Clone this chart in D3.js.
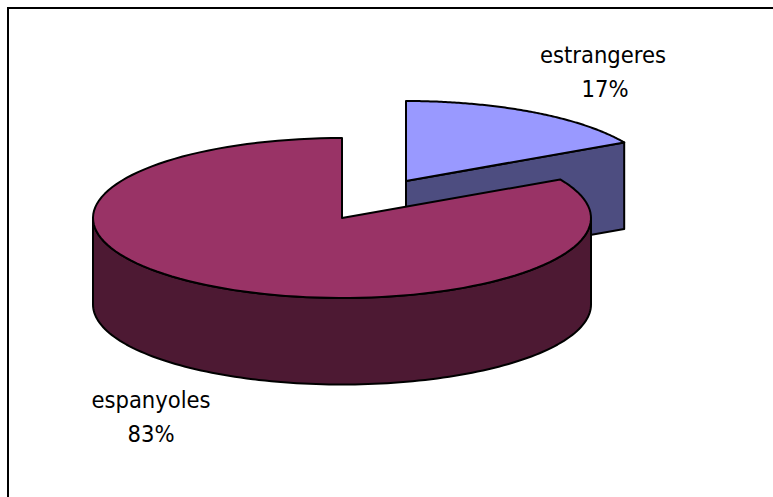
<!DOCTYPE html>
<html>
<head>
<meta charset="utf-8">
<script src="https://cdn.jsdelivr.net/npm/d3@7"></script>
<style>
  html, body { margin: 0; padding: 0; background: #fff; overflow: hidden; }
</style>
</head>
<body>
<div id="chart"></div>
<script>
const categories = ['estrangeres', 'espanyoles']
const values = [17, 83]
const percentLabels = ['17%', '83%']

const width = 773
const height = 497
const rx = 249
const ry = 80
const depth = 86.5
const center = { x: 342, y: 218 }
const explode = { x: 64, y: -37 }

const svg = d3.select('#chart').append('svg').attr('width', width).attr('height', height)

// frame runs off the right and bottom of the picture
svg.append('rect')
  .attr('x', 8).attr('y', 8)
  .attr('width', 780).attr('height', 510)
  .attr('fill', '#fff').attr('stroke', '#000').attr('stroke-width', 2)

const slices = d3.pie().sort(null)(values)

const line = d3.line()

// flattened pie: angle 0 is 12 o'clock, going clockwise
function rim(c, a, dy = 0) {
  return [c.x + rx * Math.sin(a), c.y - ry * Math.cos(a) + dy]
}
function arcPoints(c, a0, a1, dy = 0) {
  return d3.range(0, 121).map((i) => rim(c, a0 + ((a1 - a0) * i) / 120, dy))
}
function addPath(points, fill) {
  svg.append('path')
    .attr('d', line(points) + 'Z')
    .attr('fill', fill)
    .attr('stroke', '#000')
    .attr('stroke-width', 2)
    .attr('stroke-linejoin', 'round')
}

// small slice, pulled out up and right
const small = slices[0]
const smallCenter = { x: center.x + explode.x, y: center.y + explode.y }
const smallEnd = rim(smallCenter, small.endAngle)
addPath([
  [smallCenter.x, smallCenter.y],
  smallEnd,
  [smallEnd[0], smallEnd[1] + depth],
  [smallCenter.x, smallCenter.y + depth],
], '#4d4d80')
addPath([[smallCenter.x, smallCenter.y], ...arcPoints(smallCenter, small.startAngle, small.endAngle)], '#9999ff')

// big slice: front wall first, then the top
const big = slices[1]
addPath([
  ...arcPoints(center, Math.PI / 2, (3 * Math.PI) / 2),
  ...arcPoints(center, (3 * Math.PI) / 2, Math.PI / 2, depth),
], '#4d1933')
addPath([[center.x, center.y], ...arcPoints(center, big.startAngle, big.endAngle)], '#993366')

const labelPos = [
  { x: 603, y: 63 },
  { x: 151, y: 408 },
]
categories.forEach((name, i) => {
  const t = svg.append('text')
    .attr('text-anchor', 'middle')
    .attr('font-family', '"DejaVu Sans Condensed", "DejaVu Sans", sans-serif')
    .attr('font-stretch', 'condensed')
    .attr('font-size', 23.5)
    .attr('fill', '#000')
  t.append('tspan').attr('x', labelPos[i].x).attr('y', labelPos[i].y).text(name)
  t.append('tspan').attr('x', labelPos[i].x + (i === 0 ? 2 : 0)).attr('y', labelPos[i].y + 34).text(percentLabels[i])
})
</script>
</body>
</html>
